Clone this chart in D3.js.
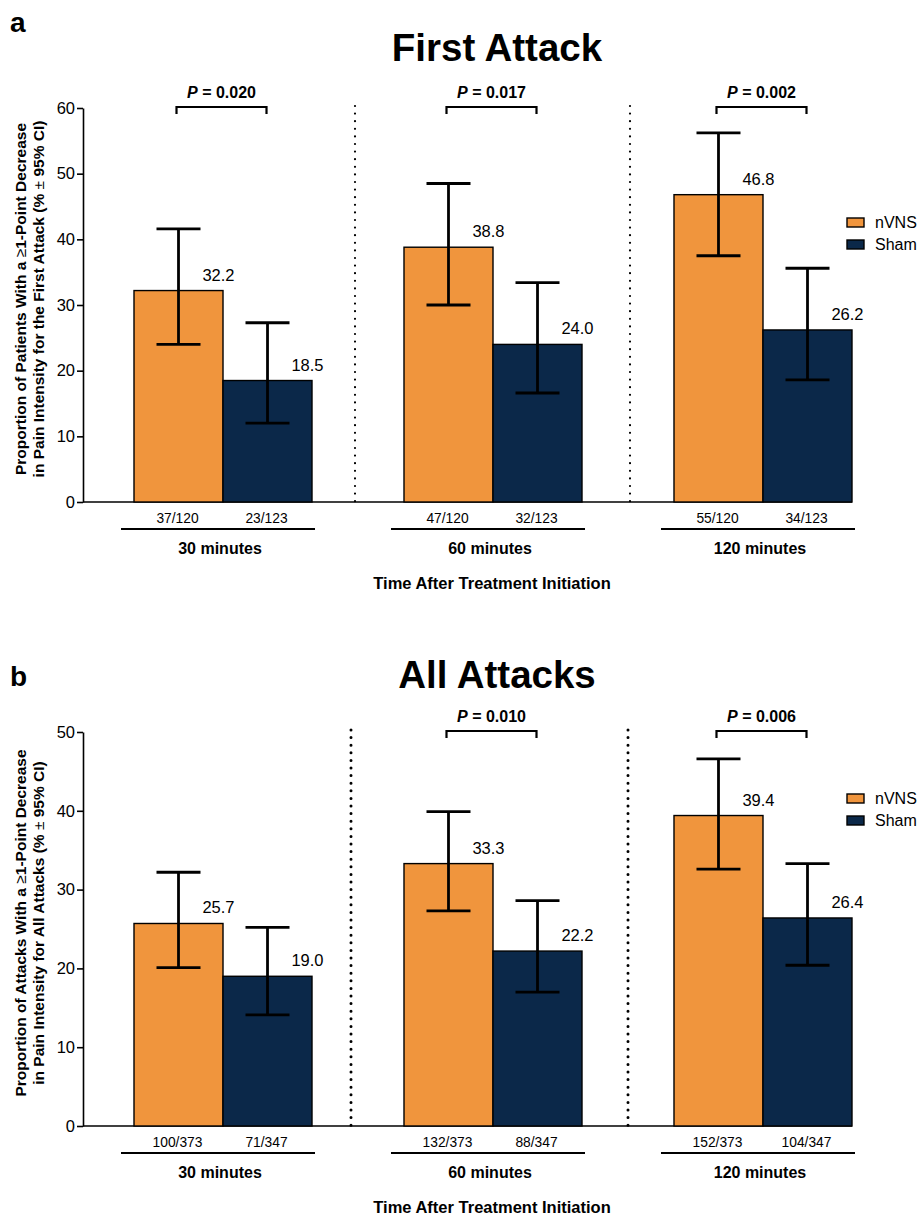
<!DOCTYPE html>
<html>
<head>
<meta charset="utf-8">
<script src="https://cdn.jsdelivr.net/npm/d3@7"></script>
<style>
  body { margin: 0; background: #fff; }
  svg { font-family: "Liberation Sans", Arial, sans-serif; }
</style>
</head>
<body>
<svg id="chart" width="919" height="1218"></svg>
<script>
// categories
var groups = ["30 minutes", "60 minutes", "120 minutes"];
var series = ["nVNS", "Sham"];

// panel a: first attack
var firstNvns = [32.2, 38.8, 46.8];
var firstSham = [18.5, 24.0, 26.2];
var firstNvnsLow = [24.0, 30.0, 37.5];
var firstNvnsHigh = [41.6, 48.5, 56.2];
var firstShamLow = [12.0, 16.6, 18.6];
var firstShamHigh = [27.3, 33.4, 35.6];
var firstCounts = [["37/120", "23/123"], ["47/120", "32/123"], ["55/120", "34/123"]];
var firstP = ["0.020", "0.017", "0.002"];
var firstTicks = [0, 10, 20, 30, 40, 50, 60];

// panel b: all attacks
var allNvns = [25.7, 33.3, 39.4];
var allSham = [19.0, 22.2, 26.4];
var allNvnsLow = [20.1, 27.3, 32.6];
var allNvnsHigh = [32.2, 39.9, 46.6];
var allShamLow = [14.1, 17.0, 20.4];
var allShamHigh = [25.2, 28.6, 33.3];
var allCounts = [["100/373", "71/347"], ["132/373", "88/347"], ["152/373", "104/347"]];
var allP = [null, "0.010", "0.006"];
var allTicks = [0, 10, 20, 30, 40, 50];

var colors = { nVNS: "#f0953d", Sham: "#0b2849" };

var svg = d3.select("#chart");

drawPanel({
  letter: "a", letterY: 32,
  title: "First Attack", titleY: 61,
  top: 108, bottom: 502, max: 60, ticks: firstTicks,
  nvns: firstNvns, sham: firstSham,
  nvnsLow: firstNvnsLow, nvnsHigh: firstNvnsHigh,
  shamLow: firstShamLow, shamHigh: firstShamHigh,
  counts: firstCounts, p: firstP,
  divX: [355, 630], dotW: 2.2,
  ytitle: ["Proportion of Patients With a \u22651-Point Decrease",
           "in Pain Intensity for the First Attack (% \u00b1 95% CI)"],
  legendY: 218
});

drawPanel({
  letter: "b", letterY: 686,
  title: "All Attacks", titleY: 688,
  top: 732, bottom: 1126, max: 50, ticks: allTicks,
  nvns: allNvns, sham: allSham,
  nvnsLow: allNvnsLow, nvnsHigh: allNvnsHigh,
  shamLow: allShamLow, shamHigh: allShamHigh,
  counts: allCounts, p: allP,
  divX: [351, 628], dotW: 3,
  ytitle: ["Proportion of Attacks With a \u22651-Point Decrease",
           "in Pain Intensity for All Attacks (% \u00b1 95% CI)"],
  legendY: 794
});

function drawPanel(c) {
  var g = svg.append("g");

  var x = d3.scaleBand()
      .domain(groups)
      .range([134, 852])
      .paddingInner(0.3407)
      .paddingOuter(0);

  var xs = d3.scaleBand()
      .domain(series)
      .range([0, x.bandwidth()]);

  var y = d3.scaleLinear()
      .domain([0, c.max])
      .range([c.bottom, c.top]);

  // panel letter and title
  g.append("text")
      .attr("x", 10).attr("y", c.letterY)
      .attr("font-size", 28).attr("font-weight", "bold")
      .text(c.letter);

  g.append("text")
      .attr("x", 497).attr("y", c.titleY)
      .attr("text-anchor", "middle")
      .attr("font-size", 38.5).attr("font-weight", "bold")
      .text(c.title);

  // y axis
  var axis = g.append("g")
      .attr("transform", "translate(83,0)")
      .call(d3.axisLeft(y).tickValues(c.ticks).tickSize(6).tickSizeOuter(0).tickPadding(2));
  axis.select(".domain").attr("stroke", "#000").attr("stroke-width", 1.6);
  axis.selectAll(".tick line").attr("stroke", "#000").attr("stroke-width", 1.6);
  axis.selectAll(".tick text")
      .attr("font-family", "Liberation Sans, Arial, sans-serif")
      .attr("font-size", 16.5).attr("fill", "#000");

  // y title, two lines
  var midY = (c.top + c.bottom) / 2 - 6;
  c.ytitle.forEach(function(line, i) {
    var t = g.append("text")
        .attr("transform", "translate(" + (26 + i * 18) + "," + midY + ") rotate(-90)")
        .attr("text-anchor", "middle")
        .attr("font-size", 15.5).attr("font-weight", "bold");
    // the symbols look lighter in the original
    line.split(/([\u2265\u00b1])/).forEach(function(part) {
      if (!part) return;
      t.append("tspan")
          .attr("font-weight", /[\u2265\u00b1]/.test(part) ? "normal" : "bold")
          .text(part);
    });
  });

  // baseline
  g.append("line")
      .attr("x1", 83).attr("x2", x(groups[2]) + x.bandwidth())
      .attr("y1", y(0)).attr("y2", y(0))
      .attr("stroke", "#000").attr("stroke-width", 1.6);

  // dotted dividers
  c.divX.forEach(function(dx) {
    g.append("line")
        .attr("x1", dx).attr("x2", dx)
        .attr("y1", c.top - 2).attr("y2", y(0))
        .attr("stroke", "#000").attr("stroke-width", c.dotW)
        .attr("stroke-linecap", "round")
        .attr("stroke-dasharray", "0 7.6");
  });

  // bars, error bars, value labels
  groups.forEach(function(grp, i) {
    var rows = [
      { s: "nVNS", v: c.nvns[i], lo: c.nvnsLow[i], hi: c.nvnsHigh[i], n: c.counts[i][0] },
      { s: "Sham", v: c.sham[i], lo: c.shamLow[i], hi: c.shamHigh[i], n: c.counts[i][1] }
    ];
    rows.forEach(function(d) {
      var bx = x(grp) + xs(d.s);
      var cx = bx + xs.bandwidth() / 2;
      g.append("rect")
          .attr("x", bx).attr("y", y(d.v))
          .attr("width", xs.bandwidth()).attr("height", y(0) - y(d.v))
          .attr("fill", colors[d.s])
          .attr("stroke", "#000").attr("stroke-width", 1.4);

      var eb = g.append("g").attr("stroke", "#000").attr("stroke-width", 2.8);
      eb.append("line").attr("x1", cx).attr("x2", cx).attr("y1", y(d.hi)).attr("y2", y(d.lo));
      eb.append("line").attr("x1", cx - 22).attr("x2", cx + 22).attr("y1", y(d.hi)).attr("y2", y(d.hi));
      eb.append("line").attr("x1", cx - 22).attr("x2", cx + 22).attr("y1", y(d.lo)).attr("y2", y(d.lo));

      g.append("text")
          .attr("x", cx + 40).attr("y", y(d.v) - 10)
          .attr("text-anchor", "middle")
          .attr("font-size", 16.5)
          .text(d3.format(".1f")(d.v));

      g.append("text")
          .attr("x", cx - 1).attr("y", y(0) + 21)
          .attr("text-anchor", "middle")
          .attr("font-size", 13.8)
          .text(d.n);
    });

    // group underline and label
    g.append("line")
        .attr("x1", x(grp) - 13).attr("x2", x(grp) + x.bandwidth() + 3)
        .attr("y1", y(0) + 27).attr("y2", y(0) + 27)
        .attr("stroke", "#000").attr("stroke-width", 2.2);
    g.append("text")
        .attr("x", x(grp) + x.bandwidth() / 2 - 3).attr("y", y(0) + 52)
        .attr("text-anchor", "middle")
        .attr("font-size", 16).attr("font-weight", "bold")
        .text(grp);

    // significance bracket
    if (c.p[i]) {
      var x1 = x(grp) + xs("nVNS") + xs.bandwidth() / 2 - 2;
      var x2 = x(grp) + xs("Sham") + xs.bandwidth() / 2 - 1;
      var by = c.top - 1;
      g.append("path")
          .attr("d", "M" + x1 + "," + (by + 7) + "V" + by + "H" + x2 + "V" + (by + 7))
          .attr("fill", "none").attr("stroke", "#000").attr("stroke-width", 2.2);
      var pt = g.append("text")
          .attr("x", (x1 + x2) / 2).attr("y", by - 9)
          .attr("text-anchor", "middle")
          .attr("font-size", 16).attr("font-weight", "bold");
      pt.append("tspan").attr("font-style", "italic").text("P");
      pt.append("tspan").text(" = " + c.p[i]);
    }
  });

  // x axis title
  g.append("text")
      .attr("x", 492).attr("y", y(0) + 87)
      .attr("text-anchor", "middle")
      .attr("font-size", 16.5).attr("font-weight", "bold")
      .text("Time After Treatment Initiation");

  // legend
  series.forEach(function(s, i) {
    g.append("rect")
        .attr("x", 847).attr("y", c.legendY + i * 22)
        .attr("width", 17).attr("height", 9)
        .attr("fill", colors[s])
        .attr("stroke", "#000").attr("stroke-width", 1.4);
    g.append("text")
        .attr("x", 875).attr("y", c.legendY + i * 22 + 10)
        .attr("font-size", 16)
        .text(s);
  });
}
</script>
</body>
</html>
